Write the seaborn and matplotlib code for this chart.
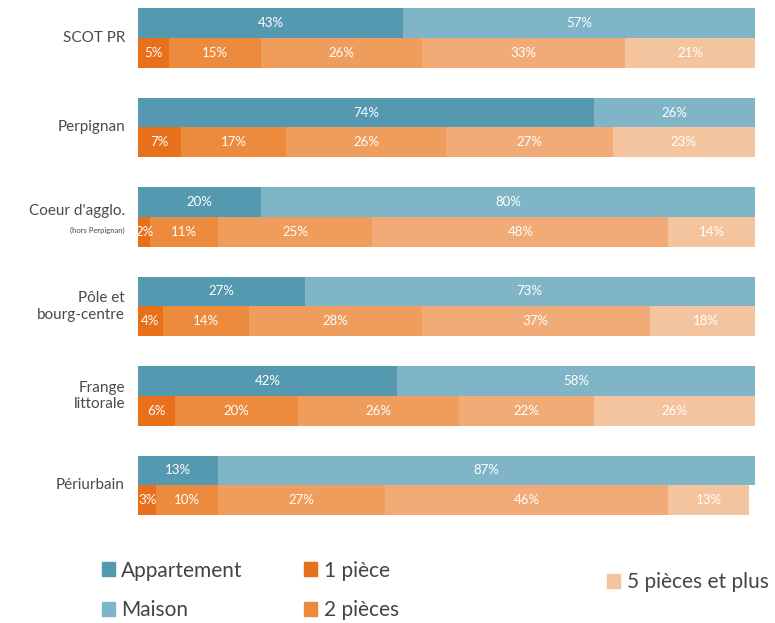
import matplotlib
matplotlib.use("Agg")
import matplotlib.pyplot as plt
import seaborn as sns
import numpy as np
import pandas as pd
from matplotlib.patches import Patch

# parts (en %) par territoire
territoires = ["SCOT PR", "Perpignan", "Coeur d'agglo.", "Pôle et\nbourg-centre",
               "Frange\nlittorale", "Périurbain"]
appartement = [43, 74, 20, 27, 42, 13]
maison = [57, 26, 80, 73, 58, 87]
piece_1 = [5, 7, 2, 4, 6, 3]
pieces_2 = [15, 17, 11, 14, 20, 10]
pieces_3 = [26, 26, 25, 28, 26, 27]
pieces_4 = [33, 27, 48, 37, 22, 46]
pieces_5plus = [21, 23, 14, 18, 26, 13]

noms_types = ["Appartement", "Maison"]
noms_pieces = ["1 pièce", "2 pièces", "3 pièces", "4 pièces", "5 pièces et plus"]
col_types = ["#5599b1", "#7fb5c7"]
col_pieces = ["#e8701a", "#ec8b3d", "#ee9d5c", "#f0ab76", "#f4c49e"]

sns.set_theme(style="white")
plt.rcParams["font.family"] = ["Lato", "DejaVu Sans"]

# une ligne "type", une ligne "pièces", puis une ligne vide par territoire
order = []
for i in range(len(territoires)):
    order += ["t%d" % i, "p%d" % i, "vide%d" % i]

series_types = [appartement, maison]
series_pieces = [piece_1, pieces_2, pieces_3, pieces_4, pieces_5plus]

fig = plt.figure(figsize=(7.75, 6.23), dpi=100)
ax = fig.add_axes([0.178, 0.173, 0.796, 0.814])


def stacked(series, prefix, colors):
    vals = np.array(series, dtype=float)          # (segments, territoires)
    cum = np.cumsum(vals, axis=0)
    rows = [prefix + str(i) for i in range(len(territoires))]
    # du plus long au plus court pour empiler
    for k in range(len(series) - 1, -1, -1):
        df = pd.DataFrame({"ligne": rows, "cumul": cum[k]})
        sns.barplot(data=df, x="cumul", y="ligne", order=order, orient="h",
                    color=colors[k], saturation=1, width=1.0, errorbar=None,
                    linewidth=0, ax=ax)
    for k in range(len(series)):
        for i in range(len(territoires)):
            v = vals[k, i]
            ax.text(cum[k, i] - v / 2, order.index(rows[i]), "%d%%" % v,
                    ha="center", va="center", color="white", fontsize=9.5)


stacked(series_types, "t", col_types)
stacked(series_pieces, "p", col_pieces)

ax.set_xlim(0, 100)
ax.set_ylim(3 * len(territoires) - 1.5, -0.5)
ax.set_xlabel("")
ax.set_ylabel("")
ax.set_xticks([])
ax.set_yticks([])
sns.despine(ax=ax, left=True, bottom=True)

tr = ax.get_yaxis_transform()
for i, nom in enumerate(territoires):
    yc = 3 * i + 0.5
    if nom.startswith("Coeur"):
        ax.text(-0.021, yc - 0.2, nom, transform=tr, ha="right", va="center",
                fontsize=11, color="#4a4a4a")
        ax.text(-0.021, yc + 0.45, "(hors Perpignan)", transform=tr, ha="right",
                va="center", fontsize=5.5, color="#4a4a4a")
    else:
        ax.text(-0.021, yc, nom, transform=tr, ha="right", va="center",
                fontsize=11, color="#4a4a4a", linespacing=1.25)

# légende (telle qu'elle apparaît : 3 et 4 pièces absents)
leg_kw = dict(frameon=False, fontsize=15, handlelength=0.65, handleheight=0.65,
              handletextpad=0.3, labelspacing=0.95, borderpad=0,
              borderaxespad=0, loc="center left", labelcolor="#444444")
h1 = [Patch(color=col_types[0]), Patch(color=col_types[1])]
fig.legend(h1, noms_types, bbox_to_anchor=(0.131, 0.052), **leg_kw)
h2 = [Patch(color=col_pieces[0]), Patch(color=col_pieces[1])]
fig.legend(h2, noms_pieces[:2], bbox_to_anchor=(0.392, 0.052), **leg_kw)
h3 = [Patch(color=col_pieces[4])]
fig.legend(h3, noms_pieces[4:], bbox_to_anchor=(0.783, 0.066), **leg_kw)

fig.savefig("out.png", dpi=100)
